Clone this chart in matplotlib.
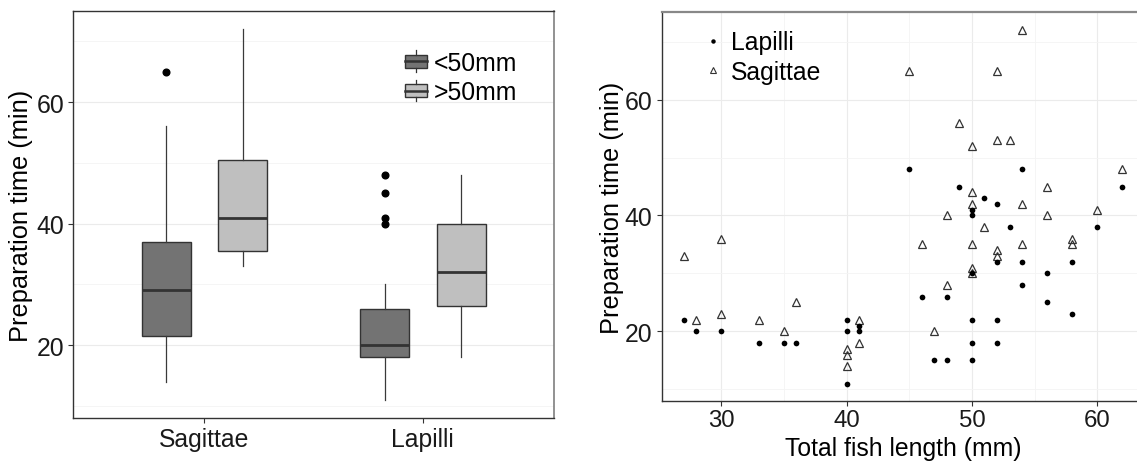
import matplotlib
matplotlib.use('Agg')
import matplotlib.pyplot as plt
from matplotlib.legend_handler import HandlerBase
from matplotlib.patches import Patch, Rectangle
from matplotlib.lines import Line2D
from matplotlib.ticker import MultipleLocator

plt.rcParams['font.family'] = ['Liberation Sans', 'DejaVu Sans']

# Otolith preparation times (min) against total fish length (mm)
lapilli_length = [27, 28, 30, 33, 35, 36, 40, 40, 40, 41, 41, 45, 54, 62, 49, 51, 52, 50, 50,
                  53, 60, 52, 54, 58, 50, 56, 54, 46, 48, 56, 58, 50, 52, 50, 52, 47, 48, 50]
lapilli_time = [22, 20, 20, 18, 18, 18, 22, 20, 11, 21, 20, 48, 48, 45, 45, 43, 42, 41, 40,
                38, 38, 32, 32, 32, 30, 30, 28, 26, 26, 25, 23, 22, 22, 18, 18, 15, 15, 15]

sagittae_length = [27, 28, 30, 30, 33, 35, 36, 40, 40, 40, 41, 41, 54, 45, 52, 49, 50, 52, 53, 62,
                   56, 50, 50, 54, 48, 56, 60, 51, 46, 50, 54, 58, 58, 52, 52, 50, 50, 48, 47]
sagittae_time = [33, 22, 36, 23, 22, 20, 25, 17, 16, 14, 22, 18, 72, 65, 65, 56, 52, 53, 53, 48,
                 45, 44, 42, 42, 40, 40, 41, 38, 35, 35, 35, 35, 36, 34, 33, 31, 30, 28, 20]

otoliths = ['Sagittae', 'Lapilli']
size_classes = ['<50mm', '>50mm']
box_fills = ['#737373', '#bfbfbf']
length_cutoff = 50

EDGE = '#333333'
TICK_SIZE = 17.8
TITLE_SIZE = 18.3


def split_by_length(lengths, times):
    small = [t for l, t in zip(lengths, times) if l <= length_cutoff]
    large = [t for l, t in zip(lengths, times) if l > length_cutoff]
    return small, large


class BoxplotKey(HandlerBase):
    """Small boxplot glyph for the legend."""
    def create_artists(self, legend, orig_handle, xdescent, ydescent,
                       width, height, fontsize, trans):
        x0, y0 = -xdescent, -ydescent
        cx = x0 + width / 2
        box = Rectangle((x0 + 0.125 * width, y0 + 0.25 * height), 0.75 * width, 0.5 * height,
                        facecolor=orig_handle.get_facecolor(), edgecolor=EDGE, lw=1.0,
                        transform=trans)
        low = Line2D([cx, cx], [y0 + 0.1 * height, y0 + 0.25 * height], color=EDGE, lw=0.9,
                     transform=trans)
        high = Line2D([cx, cx], [y0 + 0.75 * height, y0 + 0.9 * height], color=EDGE, lw=0.9,
                      transform=trans)
        mid = Line2D([x0 + 0.125 * width, x0 + 0.875 * width], [y0 + 0.5 * height] * 2,
                     color=EDGE, lw=1.8, transform=trans)
        return [box, low, high, mid]


def style_axes(ax):
    ax.set_axisbelow(True)
    ax.tick_params(axis='both', which='major', length=3.6, width=0.8, color=EDGE,
                   labelsize=TICK_SIZE, labelcolor='#1a1a1a', pad=3)
    ax.tick_params(axis='both', which='minor', length=0)
    for side in ['left', 'bottom', 'top']:
        ax.spines[side].set_color(EDGE)
        ax.spines[side].set_linewidth(1.0)
    ax.spines['right'].set_color('#7f7f7f')
    ax.spines['right'].set_linewidth(1.2)


fig = plt.figure(figsize=(11.37, 4.64), dpi=100)
ax1 = fig.add_axes([0.0645, 0.0963, 0.4227, 0.8785])
ax2 = fig.add_axes([0.582, 0.133, 0.4244, 0.8383])

# Left: boxplots per otolith type and size class
groups = {
    'Sagittae': split_by_length(sagittae_length, sagittae_time),
    'Lapilli': split_by_length(lapilli_length, lapilli_time),
}
for i, name in enumerate(otoliths):
    for j, (vals, fill) in enumerate(zip(groups[name], box_fills)):
        pos = i + 1 + (j - 0.5) * 0.35
        ax1.boxplot([vals], positions=[pos], widths=0.225, patch_artist=True,
                    showcaps=False, manage_ticks=False,
                    boxprops=dict(facecolor=fill, edgecolor=EDGE, linewidth=1.0),
                    medianprops=dict(color=EDGE, linewidth=2.0),
                    whiskerprops=dict(color='#3a3a3a', linewidth=0.9),
                    flierprops=dict(marker='o', markerfacecolor='black',
                                    markeredgecolor='black', markersize=4.8))

ax1.set_xlim(0.4, 2.6)
ax1.set_xticks([1, 2], otoliths)
ax1.set_ylim(7.95, 75.05)
ax1.yaxis.set_major_locator(MultipleLocator(20))
ax1.yaxis.set_minor_locator(MultipleLocator(10))
ax1.yaxis.grid(True, which='major', color='#ebebeb', lw=0.8)
ax1.yaxis.grid(True, which='minor', color='#f4f4f4', lw=0.6)
style_axes(ax1)
ax1.set_ylabel('Preparation time (min)', fontsize=TITLE_SIZE)
ax1.yaxis.set_label_coords(-0.084, 0.5)

box_handles = [Patch(facecolor=c, edgecolor=EDGE) for c in box_fills]
ax1.legend(box_handles, size_classes, handler_map={Patch: BoxplotKey()},
           loc='upper left', bbox_to_anchor=(0.6836, 0.909), borderaxespad=0,
           borderpad=0, frameon=False, fontsize=TICK_SIZE, handlelength=1.15,
           handleheight=1.3, handletextpad=0.14, labelspacing=0.1)

# Right: preparation time against fish length
ax2.plot(sagittae_length, sagittae_time, ls='', marker='^', ms=6.2, mfc='none',
         mec='#333333', mew=0.9)
ax2.plot(lapilli_length, lapilli_time, ls='', marker='o', ms=4.1, color='black', mew=0)

ax2.set_xlim(25.25, 63.75)
ax2.set_ylim(7.95, 75.05)
ax2.xaxis.set_major_locator(MultipleLocator(10))
ax2.xaxis.set_minor_locator(MultipleLocator(5))
ax2.yaxis.set_major_locator(MultipleLocator(20))
ax2.yaxis.set_minor_locator(MultipleLocator(10))
ax2.grid(True, which='major', color='#ebebeb', lw=0.8)
ax2.grid(True, which='minor', color='#f4f4f4', lw=0.6)
style_axes(ax2)
ax2.tick_params(axis='x', labelsize=17.3, pad=2)
ax2.spines['top'].set_color('#888888')
ax2.spines['top'].set_linewidth(1.6)
ax2.set_ylabel('Preparation time (min)', fontsize=TITLE_SIZE)
ax2.yaxis.set_label_coords(-0.078, 0.5)
ax2.set_xlabel('Total fish length (mm)', fontsize=17.8)
ax2.xaxis.set_label_coords(0.5, -0.089)

point_handles = [
    Line2D([], [], ls='', marker='o', ms=3.2, color='black', mew=0),
    Line2D([], [], ls='', marker='^', ms=4.6, mfc='none', mec='#333333', mew=0.8),
]
ax2.legend(point_handles, ['Lapilli', 'Sagittae'], loc='upper left',
           bbox_to_anchor=(0.080, 0.954), borderaxespad=0, borderpad=0,
           frameon=False, fontsize=TICK_SIZE, handlelength=1.0, handletextpad=0.24,
           labelspacing=0.22)

fig.savefig('out.png', dpi=100)
